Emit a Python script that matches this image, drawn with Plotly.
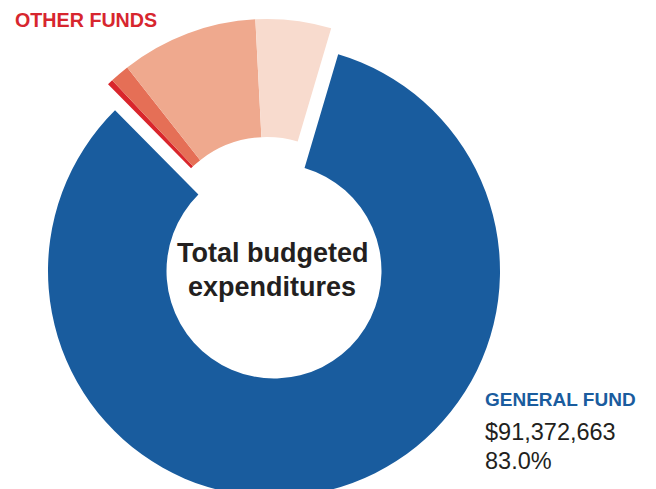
import plotly.graph_objects as go

# The page has an 8px body margin; the figure is sized/positioned in its own px space.
W, H = 648, 500

# Data
fund_names = ["General Fund", "Other fund A", "Other fund B", "Other fund C", "Other fund D"]
fund_values = [91372663, 445000, 1540000, 10780000, 5950000]
fund_colors = ["#195C9E", "#D9262C", "#E56F56", "#EFA98E", "#F8DBCE"]
center_lines = ["Total budgeted", "expenditures"]
general_label = "GENERAL FUND"
general_amount = "$91,372,663"
general_share = "83.0%"
other_label = "OTHER FUNDS"

TRANSPARENT = "rgba(0,0,0,0)"


def dom(cx, cy, r):
    # cx, cy in px from top-left of the figure; returns plotly domain
    return dict(x=[(cx - r) / W, (cx + r) / W],
                y=[(H - cy - r) / H, (H - cy + r) / H])


rotation = 16.5

fig = go.Figure()
# General fund ring (other slices hidden)
fig.add_trace(go.Pie(
    labels=fund_names, values=fund_values, sort=False, direction="clockwise",
    rotation=rotation, hole=107.5 / 226,
    marker=dict(colors=[fund_colors[0]] + [TRANSPARENT] * 4, line=dict(width=0)),
    textinfo="none", hoverinfo="skip", showlegend=False,
    domain=dom(266, 263, 226),
))
# Other funds, pulled out as a group
fig.add_trace(go.Pie(
    labels=fund_names, values=fund_values, sort=False, direction="clockwise",
    rotation=rotation, hole=108 / 226,
    marker=dict(colors=[TRANSPARENT] + fund_colors[1:], line=dict(width=0)),
    textinfo="none", hoverinfo="skip", showlegend=False,
    domain=dom(259, 237, 226),
))

font = "Liberation Sans, Arial, sans-serif"
dark = "#231F20"


def note(text, x, y, size, color, anchor="left", bold=False):
    return dict(text=text, x=x / W, y=1 - y / H, xref="paper", yref="paper",
                xanchor=anchor, yanchor="middle", showarrow=False,
                font=dict(family=font, size=size, color=color,
                          weight="bold" if bold else "normal"))


ann = [
    note(center_lines[0], 264, 245, 27, dark, "center", True),
    note(center_lines[1], 264, 279, 27, dark, "center", True),
    note(other_label, 5, 12, 19.7, "#D7262E", "left", True),
    note(general_label, 475, 391, 19, "#1A5C9E", "left", True),
    note(general_amount, 475, 424, 23.5, dark),
    note(general_share, 475, 453, 23.5, dark),
]

fig.update_layout(
    width=W, height=H, margin=dict(l=0, r=0, t=0, b=0),
    paper_bgcolor="white", plot_bgcolor="white",
    showlegend=False, annotations=ann,
)

fig.write_html("out.html")
